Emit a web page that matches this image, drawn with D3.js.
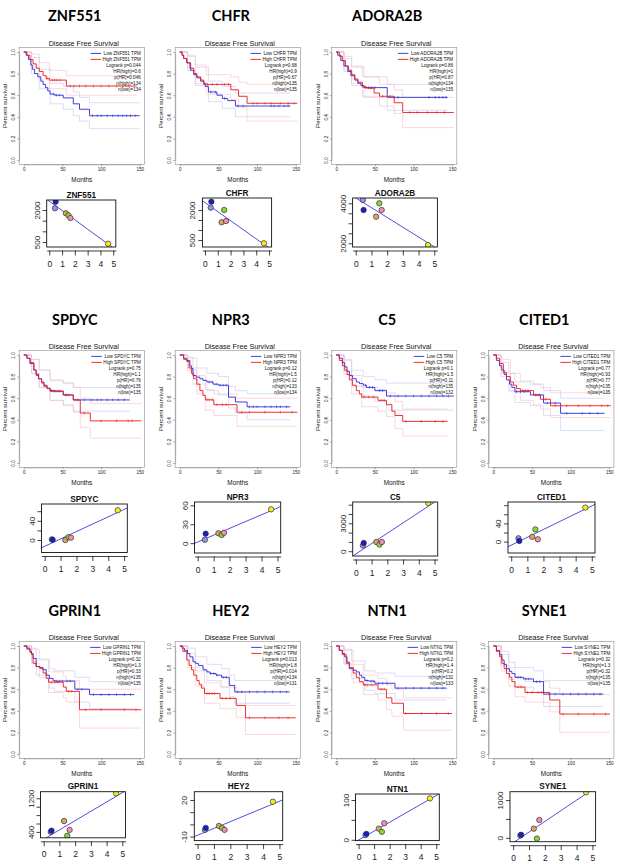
<!DOCTYPE html>
<html><head><meta charset="utf-8">
<script src="https://cdn.jsdelivr.net/npm/d3@7"></script>
<style>
body{margin:0;background:#fff}
svg{display:block}
.big{font-family:Lato,"Liberation Sans",sans-serif;font-weight:700;font-size:14.5px;fill:#000}
.km{font-family:"Liberation Sans",Arial,sans-serif;fill:#111}
.sc{font-family:"Liberation Sans",Arial,sans-serif;fill:#111}
</style>
</head><body>
<svg id="chart" width="620" height="864"></svg>
<script>
// ---------------- DATA ----------------
const genes = ["ZNF551","CHFR","ADORA2B","SPDYC","NPR3","C5","CITED1","GPRIN1","HEY2","NTN1","SYNE1"];
const logrankP = ["0.044","0.68","0.86","0.75","0.12","0.1","0.77","0.32","0.013","0.2","0.32"];
const hrHigh = ["0.6","0.9","1","1.1","1.5","1.5","0.93","1.3","1.8","1.4","1.3"];
const pHR = ["0.046","0.67","0.87","0.76","0.12","0.11","0.77","0.33","0.014","0.2","0.32"];
const nHigh = [134,135,134,135,133,135,135,135,134,132,135];
const nLow = [134,135,135,135,134,132,135,135,131,133,135];

// Kaplan-Meier step curves: [month, survival]
const lowCurves = [
 [[0,1],[3,0.97],[6,0.93],[9,0.88],[11,0.84],[14,0.8],[18,0.77],[22,0.73],[25,0.7],[28,0.67],[31,0.64],[34,0.61],[40,0.6],[51,0.575],[64,0.52],[72,0.47],[85,0.41],[150,0.41]],
 [[0,1],[3,0.97],[5,0.94],[9,0.9],[14,0.83],[18,0.79],[22,0.76],[27,0.73],[31,0.7],[33,0.68],[37,0.63],[48,0.6],[55,0.57],[62,0.55],[72,0.5],[143,0.5]],
 [[0,1],[2,0.97],[6,0.92],[10,0.87],[15,0.82],[19,0.78],[24,0.74],[28,0.71],[32,0.69],[36,0.67],[66,0.58],[144,0.58]],
 [[0,1],[4,0.97],[8,0.92],[13,0.86],[16,0.82],[19,0.78],[23,0.75],[26,0.72],[30,0.69],[34,0.67],[40,0.665],[51,0.63],[64,0.584],[137,0.584]],
 [[0,1],[5,0.97],[9,0.95],[13,0.9],[15,0.875],[17,0.81],[21,0.795],[26,0.78],[30,0.765],[35,0.75],[43,0.73],[50,0.72],[63,0.61],[72,0.565],[87,0.52],[143,0.52]],
 [[0,1],[4,0.97],[8,0.93],[11,0.89],[14,0.85],[17,0.81],[21,0.78],[26,0.75],[30,0.735],[35,0.72],[39,0.7],[50,0.67],[65,0.62],[152,0.62]],
 [[0,1],[4,0.95],[8,0.9],[11,0.86],[14,0.82],[17,0.77],[21,0.73],[24,0.7],[28,0.66],[48,0.63],[65,0.555],[87,0.46],[144,0.46]],
 [[0,1],[4,0.98],[8,0.95],[10,0.93],[12,0.885],[16,0.81],[20,0.8],[25,0.78],[29,0.73],[33,0.7],[38,0.68],[40,0.675],[66,0.6],[85,0.55],[143,0.55]],
 [[0,1],[3,0.98],[6,0.96],[10,0.93],[13,0.9],[17,0.855],[20,0.84],[24,0.82],[30,0.78],[35,0.76],[39,0.745],[47,0.73],[54,0.71],[64,0.635],[71,0.575],[142,0.575]],
 [[0,1],[4,0.96],[8,0.93],[11,0.9],[14,0.85],[17,0.79],[22,0.775],[26,0.76],[30,0.73],[33,0.71],[37,0.68],[42,0.675],[50,0.655],[76,0.61],[143,0.61]],
 [[0,1],[4,0.96],[8,0.92],[11,0.87],[14,0.83],[17,0.79],[21,0.765],[24,0.745],[28,0.71],[39,0.695],[52,0.67],[65,0.555],[142,0.555]]
];
const highCurves = [
 [[0,1],[4,0.97],[8,0.93],[12,0.89],[16,0.85],[20,0.82],[25,0.78],[29,0.756],[33,0.74],[55,0.685],[146,0.685]],
 [[0,1],[3,0.97],[5,0.94],[9,0.9],[13,0.85],[18,0.8],[22,0.77],[27,0.74],[31,0.71],[34,0.7],[66,0.65],[76,0.59],[87,0.525],[152,0.525]],
 [[0,1],[4,0.96],[8,0.92],[12,0.87],[16,0.83],[20,0.79],[24,0.75],[28,0.72],[34,0.675],[40,0.665],[49,0.62],[56,0.59],[75,0.53],[86,0.44],[152,0.44]],
 [[0,1],[4,0.97],[8,0.93],[13,0.86],[16,0.81],[19,0.78],[23,0.74],[26,0.71],[30,0.69],[34,0.665],[51,0.63],[64,0.584],[73,0.4625],[86,0.39],[152,0.39]],
 [[0,1],[5,0.96],[9,0.94],[12,0.88],[15,0.83],[18,0.78],[22,0.73],[26,0.67],[30,0.625],[33,0.585],[44,0.54],[74,0.47],[152,0.47]],
 [[0,1],[4,0.95],[8,0.9],[11,0.86],[14,0.82],[17,0.77],[21,0.72],[26,0.67],[30,0.64],[33,0.61],[54,0.58],[65,0.54],[72,0.48],[76,0.44],[86,0.385],[144,0.385]],
 [[0,1],[4,0.97],[8,0.92],[13,0.84],[17,0.8],[22,0.75],[26,0.72],[30,0.69],[35,0.67],[52,0.63],[61,0.59],[74,0.53],[152,0.53]],
 [[0,1],[4,0.97],[8,0.94],[10,0.92],[12,0.84],[16,0.81],[21,0.79],[25,0.75],[29,0.7],[32,0.665],[51,0.62],[55,0.58],[72,0.41],[152,0.41]],
 [[0,1],[4,0.95],[9,0.87],[12,0.82],[15,0.78],[18,0.73],[22,0.68],[25,0.645],[28,0.61],[32,0.56],[52,0.515],[73,0.45],[85,0.335],[150,0.335]],
 [[0,1],[4,0.96],[8,0.92],[13,0.84],[17,0.8],[22,0.75],[26,0.71],[30,0.67],[35,0.64],[54,0.6],[65,0.52],[72,0.47],[87,0.375],[150,0.375]],
 [[0,1],[4,0.95],[8,0.9],[11,0.84],[14,0.79],[17,0.745],[21,0.71],[24,0.67],[28,0.62],[41,0.57],[73,0.5],[86,0.37],[151,0.37]]
];
// confidence bands: [month, lower, upper]
const lowBands = [
 [[0,1,1],[10,0.8,0.95],[20,0.66,0.84],[34,0.52,0.71],[51,0.47,0.68],[64,0.41,0.63],[72,0.36,0.58],[85,0.29,0.53],[150,0.29,0.53]],
 [[0,1,1],[10,0.83,0.96],[20,0.69,0.86],[37,0.54,0.73],[55,0.48,0.68],[72,0.4,0.62],[143,0.4,0.62]],
 [[0,1,1],[10,0.82,0.94],[20,0.69,0.86],[36,0.58,0.77],[66,0.46,0.7],[144,0.46,0.7]],
 [[0,1,1],[10,0.83,0.96],[20,0.7,0.86],[34,0.58,0.77],[51,0.54,0.74],[64,0.48,0.7],[137,0.48,0.7]],
 [[0,1,1],[10,0.88,0.98],[17,0.73,0.88],[35,0.67,0.83],[50,0.63,0.8],[63,0.51,0.71],[72,0.46,0.67],[87,0.4,0.64],[143,0.4,0.64]],
 [[0,1,1],[10,0.85,0.96],[20,0.71,0.86],[35,0.62,0.8],[50,0.57,0.77],[65,0.49,0.74],[152,0.49,0.74]],
 [[0,1,1],[10,0.8,0.93],[20,0.66,0.83],[28,0.56,0.75],[48,0.53,0.73],[65,0.44,0.67],[87,0.3,0.6],[144,0.3,0.6]],
 [[0,1,1],[10,0.86,0.98],[16,0.73,0.88],[33,0.61,0.79],[40,0.58,0.77],[66,0.48,0.71],[85,0.42,0.67],[143,0.42,0.67]],
 [[0,1,1],[10,0.88,0.98],[20,0.77,0.9],[35,0.68,0.83],[54,0.62,0.79],[64,0.53,0.73],[71,0.47,0.68],[142,0.47,0.68]],
 [[0,1,1],[10,0.84,0.97],[20,0.7,0.86],[37,0.59,0.77],[50,0.56,0.75],[76,0.5,0.72],[143,0.5,0.72]],
 [[0,1,1],[10,0.82,0.95],[20,0.69,0.85],[28,0.62,0.8],[52,0.57,0.77],[65,0.44,0.68],[142,0.44,0.68]]
];
const highBands = [
 [[0,1,1],[10,0.86,0.98],[20,0.75,0.9],[33,0.66,0.83],[55,0.6,0.78],[146,0.6,0.78]],
 [[0,1,1],[10,0.85,0.97],[20,0.71,0.88],[34,0.61,0.79],[66,0.56,0.77],[76,0.49,0.72],[87,0.36,0.7],[152,0.36,0.7]],
 [[0,1,1],[10,0.84,0.96],[20,0.71,0.87],[34,0.59,0.77],[56,0.5,0.7],[75,0.43,0.65],[86,0.3,0.58],[152,0.3,0.58]],
 [[0,1,1],[10,0.83,0.96],[20,0.7,0.86],[34,0.58,0.76],[51,0.53,0.74],[64,0.47,0.7],[73,0.33,0.6],[86,0.23,0.55],[152,0.23,0.55]],
 [[0,1,1],[10,0.86,0.97],[22,0.64,0.81],[33,0.49,0.68],[44,0.44,0.64],[74,0.34,0.6],[152,0.34,0.6]],
 [[0,1,1],[10,0.82,0.95],[20,0.64,0.81],[33,0.52,0.7],[54,0.48,0.68],[65,0.43,0.65],[76,0.32,0.57],[86,0.25,0.5],[144,0.25,0.5]],
 [[0,1,1],[10,0.83,0.96],[22,0.67,0.83],[35,0.58,0.76],[52,0.54,0.73],[61,0.5,0.7],[74,0.42,0.65],[152,0.42,0.65]],
 [[0,1,1],[10,0.84,0.97],[20,0.71,0.87],[32,0.57,0.76],[51,0.52,0.72],[55,0.48,0.68],[72,0.24,0.6],[152,0.24,0.6]],
 [[0,1,1],[10,0.8,0.93],[20,0.63,0.8],[32,0.47,0.66],[52,0.42,0.62],[73,0.34,0.57],[85,0.18,0.45],[150,0.18,0.45]],
 [[0,1,1],[10,0.83,0.96],[22,0.66,0.83],[35,0.55,0.73],[54,0.5,0.7],[65,0.41,0.64],[72,0.35,0.6],[87,0.22,0.52],[150,0.22,0.52]],
 [[0,1,1],[10,0.77,0.92],[20,0.63,0.8],[28,0.53,0.71],[41,0.48,0.67],[73,0.39,0.61],[86,0.2,0.55],[151,0.2,0.55]]
];
// censoring times (months)
const lowCensor = [
 [38,42,46,89,95,100,108,115,122,128,133,138,144],
 [40,46,58,75,82,118,122,128,135,140],
 [38,42,46,50,75,80,120,128,133,138,142],
 [36,40,45,54,58,70,78,88,95,100,108,115,122,130],
 [38,42,47,52,56,60,90,95,100,110,118,125,130,138],
 [38,43,47,56,60,70,80,90,100,110,120,130,138,145],
 [30,35,40,55,60,70,80,95,115,125,135],
 [42,46,50,56,60,70,75,90,100,110,120,130,138],
 [40,44,48,56,60,75,80,90,100,110,120,130,138],
 [40,45,48,55,60,66,80,90,100,110,120,130,138],
 [32,35,42,46,56,60,72,80,90,100,110,120,130,138]
];
const highCensor = [
 [30,37,40,43,47,60,65,72,80,90,100,110,120,128,135],
 [36,42,48,58,63,95,100,110,118,130,140,148],
 [38,44,60,70,95,105,118,130,140],
 [38,42,47,55,66,78,100,120,135,140],
 [35,38,42,48,55,60,80,90,110,130,145],
 [36,42,48,58,62,90,110,128,138],
 [38,42,45,55,58,68,80,95,110,125,140,148],
 [36,40,44,58,62,80,100,130,145],
 [35,38,42,45,55,60,65,90,110,128,140],
 [37,40,46,58,62,90,110,130,145],
 [32,36,44,50,58,62,65,90,110,130,145]
];

// correlation scatter: shared x, per-gene y (order: lavender, blue, tan, green, pink, yellow)
const scatterX = [0.45, 0.5, 1.3, 1.5, 1.65, 4.6];
const scatterColors = ["#9a90ea","#1c1cc8","#dca262","#86d930","#f48eb0","#f2ee1e"];
const scatterY = [
 [2080, 2390, 1845, 1750, 1625, 420],
 [2115, 2415, 1385, 2000, 1450, 335],
 [4165, 3665, 3330, 4000, 3665, 1915],
 [1.4, 0.5, 0, 6, 4.9, 62],
 [5.3, 15, 15.7, 13, 16.5, 53.7],
 [605, 881, 988, 712, 988, 5180],
 [7.3, 1.5, 10.5, 26.8, 5.1, 74.7],
 [400, 430, 660, 307, 448, 1319],
 [-4.5, -2.9, -1.3, -3, -4.5, 18.6],
 [12, 15, 28, 20, 41.7, 104],
 [60, 80, 241, -20, 472, 1206]
];
const yDomains = [[266,2469],[150,2600],[1815,4265],[-26,75],[-15.6,65.3],[-516,5287],[-25,87],[260,1357],[-13.3,26.8],[-2,115],[-103,1222]];
const yTickValues = [[500,1000,1500,2000],[500,1000,1500,2000],[2000,2500,3000,3500,4000],[0,20,40,60],[0,30,60],[0,1000,2000,3000,4000,5000],[0,20,40,60,80],[400,600,800,1000,1200],[-10,0,10,20],[0,50,100],[0,500,1000]];
const yTickLabels = [["500","","","2000"],["500","","","2000"],["2000","","","","4000"],["0","","40",""],["0","30","60"],["0","","","3000","",""],["0","","40","",""],["400","","","","1200"],["-10","","","20"],["0","","100"],["0","","1000"]];
const xTickValues = [0,1,2,3,4,5];
const kmXTicks = [0,50,100,150];
const kmYTicks = [0,0.2,0.4,0.6,0.8,1];

// ---------------- LAYOUT ----------------
const panelRow = [0,0,0,1,1,1,1,2,2,2,2];
const panelCol = [0,1,2,0,1,2,3,0,1,2,3];
const colX0 = [23.8, 179.8, 336.2, 493.3];
const rowY1 = [52, 355, 646];
const kmW = 116, kmH = 108;
const titleBase = [21, 325, 616];
const scatterBoxes = [
 [46.7,115.8,200,247],[202.4,271.6,198,247],[352.6,437.4,198,247],
 [41.5,127.3,504,552.5],[194.5,280.7,502,553],[352.7,437.7,502,556],[508,595,502,553],
 [40.5,125.5,791.7,837.8],[194.3,282.7,791.7,840.6],[355.5,439.3,794,840.6],[510,595.6,791.7,841.7]
];

const lowColor="#2a2ae0", highColor="#f01818", lowBandColor="#c2c8f4", highBandColor="#f8bcc6";

const svg = d3.select("#chart");
svg.append("rect").attr("width",620).attr("height",864).attr("fill","#fff");

function stepAt(curve,t){let v=curve[0][1];for(const p of curve){if(p[0]<=t)v=p[1];else break;}return v;}

genes.forEach((gene,i)=>{
  const r=panelRow[i], c=panelCol[i];
  const x0=colX0[c], y1=rowY1[r];
  const x=d3.scaleLinear().domain([0,150]).range([x0,x0+kmW]);
  const y=d3.scaleLinear().domain([0,1]).range([y1+kmH,y1]);
  const g=svg.append("g");

  g.append("text").attr("class","big").attr("x",x0+51).attr("y",titleBase[r]).attr("text-anchor","middle").text(gene);
  g.append("text").attr("class","km").attr("x",x(77.6)).attr("y",y1-6.3).attr("text-anchor","middle").attr("font-size",7.2).text("Disease Free Survival");

  g.append("rect").attr("x",x(-6)).attr("y",y(1.04)).attr("width",x(156)-x(-6)).attr("height",y(-0.04)-y(1.04))
    .attr("fill","none").attr("stroke","#8c8c8c").attr("stroke-width",0.6);

  const ya=g.append("g").attr("transform",`translate(${x(-6)},0)`)
    .call(d3.axisLeft(y).tickValues(kmYTicks).tickFormat(d3.format(".1f")).tickSize(2).tickSizeOuter(0));
  ya.select(".domain").attr("stroke","#8c8c8c").attr("stroke-width",0.6);
  ya.selectAll(".tick line").attr("stroke","#666").attr("stroke-width",0.5);
  ya.selectAll(".tick text").attr("x",0).attr("dy",0).attr("text-anchor","middle")
    .attr("transform","translate(-3.8,0) rotate(-90)").attr("font-size",4.6).attr("font-family","Liberation Sans, Arial, sans-serif").attr("fill","#222");
  const xa=g.append("g").attr("transform",`translate(0,${y(-0.04)})`)
    .call(d3.axisBottom(x).tickValues(kmXTicks).tickSize(2).tickSizeOuter(0));
  xa.select(".domain").attr("stroke","#8c8c8c").attr("stroke-width",0.6);
  xa.selectAll(".tick line").attr("stroke","#666").attr("stroke-width",0.5);
  xa.selectAll(".tick text").attr("y",3.6).attr("font-size",4.6).attr("font-family","Liberation Sans, Arial, sans-serif").attr("fill","#222");

  g.append("text").attr("class","km").attr("x",x(75)).attr("y",y1+130).attr("text-anchor","middle").attr("font-size",6.4).text("Months");
  g.append("text").attr("class","km").attr("text-anchor","middle").attr("font-size",6.2)
    .attr("transform",`translate(${x0-18.5},${y1+54}) rotate(-90)`).attr("dy","0.35em").text("Percent survival");

  const bl=k=>d3.line().x(d=>x(d[0])).y(d=>y(d[k])).curve(d3.curveStepAfter);
  [[lowBands[i],lowBandColor],[highBands[i],highBandColor]].forEach(([band,col])=>{
    [1,2].forEach(k=>{
      g.append("path").attr("d",bl(k)(band)).attr("fill","none").attr("stroke",col).attr("stroke-width",0.6);
    });
  });

  const line=d3.line().x(d=>x(d[0])).y(d=>y(d[1])).curve(d3.curveStepAfter);
  [[lowCurves[i],lowCensor[i],lowColor],[highCurves[i],highCensor[i],highColor]].forEach(([cur,cen,col])=>{
    g.append("path").attr("d",line(cur)).attr("fill","none").attr("stroke",col).attr("stroke-width",0.9);
    g.selectAll(null).data(cen).enter().append("line")
      .attr("x1",d=>x(d)).attr("x2",d=>x(d))
      .attr("y1",d=>y(stepAt(cur,d))-1.3).attr("y2",d=>y(stepAt(cur,d))+1.3)
      .attr("stroke",col).attr("stroke-width",0.6);
  });

  const right=x(150)+1;
  const lines=[`Low ${gene} TPM`,`High ${gene} TPM`,`Logrank p=${logrankP[i]}`,`HR(high)=${hrHigh[i]}`,`p(HR)=${pHR[i]}`,`n(high)=${nHigh[i]}`,`n(low)=${nLow[i]}`];
  let maxLen=0;
  lines.forEach((t,k)=>{
    const tn=g.append("text").attr("class","km").attr("x",right).attr("y",y1+3+k*6).attr("text-anchor","end").attr("font-size",4.6).text(t);
    if(k<2) maxLen=Math.max(maxLen,tn.node().getComputedTextLength());
  });
  [lowColor,highColor].forEach((col,k)=>{
    g.append("line").attr("x1",right-maxLen-12).attr("x2",right-maxLen-1.5)
      .attr("y1",y1+1.4+k*6).attr("y2",y1+1.4+k*6).attr("stroke",col).attr("stroke-width",0.9);
  });

  // ---------- scatter ----------
  const b=scatterBoxes[i];
  const sx=d3.scaleLinear().domain([-0.2,5.2]).range([b[0],b[1]]);
  const sy=d3.scaleLinear().domain(yDomains[i]).range([b[3],b[2]]);
  const sg=svg.append("g");
  const clipId="clip"+i;
  sg.append("clipPath").attr("id",clipId).append("rect").attr("x",b[0]).attr("y",b[2]).attr("width",b[1]-b[0]).attr("height",b[3]-b[2]);

  sg.append("text").attr("class","sc").attr("x",(b[0]+b[1])/2).attr("y",b[2]-2.5).attr("text-anchor","middle")
    .attr("font-size",8.2).attr("font-weight",700).text(gene);

  const xs=scatterX, ys=scatterY[i];
  const mx=d3.mean(xs), my=d3.mean(ys);
  const sxy=d3.sum(xs.map((v,k)=>(v-mx)*(ys[k]-my))), sxx=d3.sum(xs.map(v=>(v-mx)*(v-mx)));
  const slope=sxy/sxx, icpt=my-slope*mx;
  sg.append("line").attr("clip-path",`url(#${clipId})`)
    .attr("x1",sx(-0.2)).attr("y1",sy(icpt+slope*-0.2)).attr("x2",sx(5.2)).attr("y2",sy(icpt+slope*5.2))
    .attr("stroke","#3c3cdc").attr("stroke-width",0.9);

  sg.selectAll(null).data(xs.map((v,k)=>({x:v,y:ys[k],c:scatterColors[k]}))).enter().append("circle")
    .attr("clip-path",`url(#${clipId})`)
    .attr("cx",d=>sx(d.x)).attr("cy",d=>sy(d.y)).attr("r",2.7)
    .attr("fill",d=>d.c).attr("stroke","#333").attr("stroke-width",0.7);

  sg.append("rect").attr("x",b[0]).attr("y",b[2]).attr("width",b[1]-b[0]).attr("height",b[3]-b[2])
    .attr("fill","none").attr("stroke","#111").attr("stroke-width",0.9);

  const sya=sg.append("g").attr("transform",`translate(${b[0]},0)`)
    .call(d3.axisLeft(sy).tickValues(yTickValues[i]).tickFormat((d,k)=>yTickLabels[i][k]).tickSize(4).tickSizeOuter(0));
  sya.select(".domain").remove();
  sya.selectAll(".tick line").attr("stroke","#111").attr("stroke-width",0.8);
  sya.selectAll(".tick text").attr("x",0).attr("dy",0).attr("text-anchor","middle")
    .attr("transform","translate(-7,0) rotate(-90)").attr("font-size",8).attr("font-family","Liberation Sans, Arial, sans-serif").attr("fill","#222");

  const sxa=sg.append("g").attr("transform",`translate(0,${b[3]+3.5})`)
    .call(d3.axisBottom(sx).tickValues(xTickValues).tickFormat(d3.format("d")).tickSize(5).tickPadding(5).tickSizeOuter(0));
  sxa.select(".domain").attr("stroke","#111").attr("stroke-width",0.8);
  sxa.selectAll(".tick line").attr("stroke","#111").attr("stroke-width",0.8);
  sxa.selectAll(".tick text").attr("font-size",8.5).attr("font-family","Liberation Sans, Arial, sans-serif").attr("fill","#222");
});
</script>
</body></html>
